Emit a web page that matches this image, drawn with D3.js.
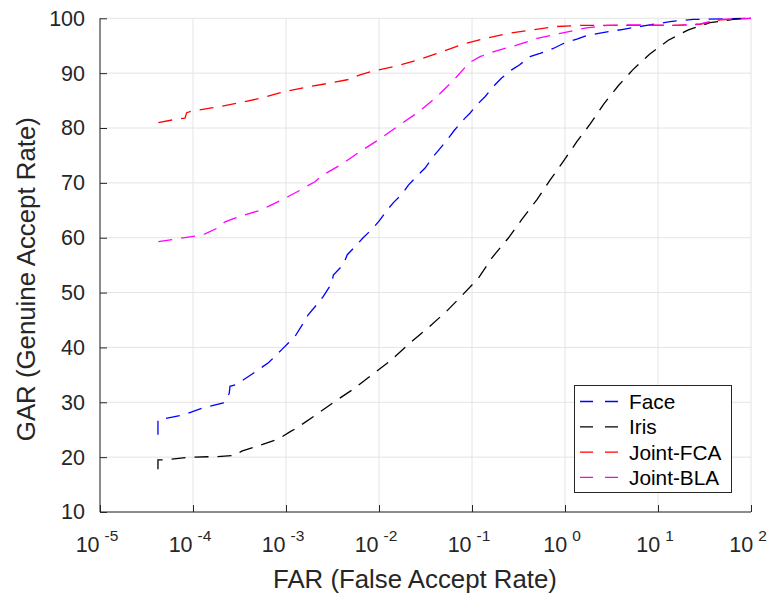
<!DOCTYPE html>
<html>
<head>
<meta charset="utf-8">
<script src="https://cdn.jsdelivr.net/npm/d3@7"></script>
<style>
  html, body { margin: 0; padding: 0; background: #fff; }
  svg { display: block; font-family: "Liberation Sans", Arial, Helvetica, sans-serif; }
</style>
</head>
<body>
<svg id="chart" width="776" height="595"></svg>
<script>
// ---------------- data ----------------
const xTickExponents = [-5, -4, -3, -2, -1, 0, 1, 2];
const yTickValues = [10, 20, 30, 40, 50, 60, 70, 80, 90, 100];
const seriesNames = ["Face", "Iris", "Joint-FCA", "Joint-BLA"];
const seriesColors = ["#0000ff", "#000000", "#ff0000", "#ff00ff"];

const faceFAR = [4.2e-5, 4.2e-5, 7.9e-5, 1.29e-4, 2.12e-4, 2.45e-4, 2.5e-4, 2.9e-4, 4.45e-4, 6.46e-4, 9.0e-4,
  1.06e-3, 1.25e-3, 1.53e-3, 1.74e-3, 2.14e-3, 2.52e-3, 3.1e-3, 3.23e-3, 4.13e-3, 4.56e-3, 5.75e-3, 6.67e-3, 8.55e-3,
  0.0101, 0.0123, 0.0143, 0.018, 0.0207, 0.0265, 0.0313, 0.0384, 0.0445, 0.0556, 0.064, 0.0841, 0.095,
  0.117, 0.138, 0.177, 0.208, 0.267, 0.323, 0.421, 0.538, 0.748, 0.959, 1.34, 1.68, 2.38, 4.24, 7.55, 13.5, 24, 100];
const faceGAR = [24.1, 26.8, 27.7, 29.0, 29.9, 31.6, 32.9, 33.2, 35.3, 37.2, 39.6,
  40.8, 42.0, 44.4, 46.0, 47.8, 49.3, 51.7, 53.2, 55.1, 56.9, 58.7, 59.9, 61.7,
  63.1, 65.1, 66.4, 68.1, 69.6, 71.5, 72.7, 74.8, 76.1, 78.1, 79.5, 81.8, 82.7,
  84.5, 85.7, 87.9, 89.1, 90.6, 91.5, 93.0, 93.6, 94.5, 95.4, 96.2, 96.8, 97.3, 98.0, 98.7, 99.4, 99.8, 100];

const irisFAR = [4.2e-5, 4.2e-5, 4.72e-5, 9.66e-5, 1.79e-4, 2.83e-4, 3.34e-4, 4.75e-4, 8.26e-4, 1.1e-3, 1.3e-3,
  2.05e-3, 3.45e-3, 5.3e-3, 8.83e-3, 0.0129, 0.0215, 0.0339, 0.0533, 0.0774, 0.117, 0.163, 0.245, 0.342, 0.497,
  0.69, 0.959, 1.34, 1.86, 2.62, 3.74, 5.35, 8.05, 12.9, 21.2, 36.2, 64.6, 100];
const irisGAR = [17.8, 19.5, 19.5, 20.0, 20.1, 20.3, 21.1, 21.9, 23.3, 24.6, 25.3,
  27.6, 30.3, 32.4, 35.3, 37.4, 40.8, 43.6, 46.6, 49.4, 52.6, 56.3, 59.9, 63.3, 66.9,
  70.5, 73.9, 77.5, 80.7, 84.4, 87.7, 90.6, 93.4, 96.0, 97.9, 99.2, 99.8, 100];

const fcaFAR = [4.24e-5, 6.14e-5, 8.2e-5, 8.55e-5, 9.3e-5, 1.65e-4, 2.95e-4, 5.25e-4, 9.35e-4, 1.6e-3, 2.97e-3,
  4.88e-3, 6.25e-3, 8.69e-3, 0.0155, 0.0272, 0.0472, 0.0841, 0.144, 0.256, 0.456, 0.813, 1.45, 4.6, 13.5, 28.3, 46.5, 100];
const fcaGAR = [81.0, 81.5, 81.8, 82.8, 83.0, 83.7, 84.5, 85.4, 86.6, 87.4, 88.2,
  88.9, 89.7, 90.4, 91.3, 92.5, 93.9, 95.4, 96.4, 97.3, 97.9, 98.5, 98.7, 98.7, 98.7, 98.9, 99.7, 100];

const blaFAR = [4.24e-5, 6.14e-5, 1.05e-4, 1.35e-4, 1.8e-4, 2.21e-4, 3.07e-4, 5.25e-4, 6.46e-4, 9.0e-4, 1.51e-3,
  1.64e-3, 2.05e-3, 2.42e-3, 4.06e-3, 6.25e-3, 0.0104, 0.0168, 0.0276, 0.0424, 0.064, 0.0935, 0.122, 0.169,
  0.302, 0.516, 0.92, 1.64, 2.81, 5.0, 17.3, 28.3, 46.5, 100];
const blaGAR = [59.3, 59.7, 60.3, 60.7, 61.7, 62.9, 63.8, 65.0, 65.7, 66.9, 68.9,
  69.3, 70.2, 71.3, 73.5, 75.7, 78.1, 80.6, 83.1, 85.8, 88.8, 91.9, 93.0, 93.9,
  95.1, 96.4, 97.3, 98.2, 98.7, 98.8, 98.7, 99.0, 99.8, 100];

const xLabel = "FAR (False Accept Rate)";
const yLabel = "GAR (Genuine Accept Rate)";

// ---------------- chart ----------------
const svg = d3.select("#chart");
const L = 100, R = 751, T = 18.3, B = 512;
const axisColor = "#262626";
const gridColor = "#e4e4e4";
const dash = "14,9";

const x = d3.scaleLog().domain([1e-5, 1e2]).range([L, R]);
const y = d3.scaleLinear().domain([10, 100]).range([B, T]);
const xTicks = xTickExponents.map(e => Math.pow(10, e));

// grid
const grid = svg.append("g");
grid.selectAll("line.gx").data(xTicks).join("line")
  .attr("x1", d => x(d)).attr("x2", d => x(d)).attr("y1", T).attr("y2", B)
  .attr("stroke", gridColor).attr("stroke-width", 1);
grid.selectAll("line.gy").data(yTickValues).join("line")
  .attr("x1", L).attr("x2", R).attr("y1", d => y(d)).attr("y2", d => y(d))
  .attr("stroke", gridColor).attr("stroke-width", 1);

// curves
const series = [
  { far: faceFAR, gar: faceGAR },
  { far: irisFAR, gar: irisGAR },
  { far: fcaFAR, gar: fcaGAR },
  { far: blaFAR, gar: blaGAR }
];
const line = d3.line().x(d => x(d[0])).y(d => y(d[1]));
series.forEach((s, i) => {
  const pts = s.far.map((f, j) => [f, s.gar[j]]);
  svg.append("path").datum(pts)
    .attr("d", line)
    .attr("fill", "none")
    .attr("stroke", seriesColors[i])
    .attr("stroke-width", 1.3)
    .attr("stroke-dasharray", dash);
});

// y axis
const yAxis = d3.axisLeft(y).tickValues(yTickValues).tickSize(-7).tickPadding(15).tickFormat(d3.format("d"));
const gy = svg.append("g").attr("transform", `translate(${L},0)`).call(yAxis);
gy.select(".domain").attr("stroke", axisColor).attr("d", `M0,${B}V${T}`);
gy.selectAll(".tick line").attr("stroke", axisColor);
gy.selectAll(".tick text").attr("fill", axisColor).attr("font-size", 21.5)
  .attr("font-family", "'Liberation Sans', Arial, sans-serif");

// x axis
const xAxis = d3.axisBottom(x).tickValues(xTicks).tickSize(-7).tickFormat("");
const gx = svg.append("g").attr("transform", `translate(0,${B})`).call(xAxis);
gx.select(".domain").attr("stroke", axisColor).attr("d", `M${L},0H${R}`);
gx.selectAll(".tick line").attr("stroke", axisColor);
gx.selectAll(".tick text").remove();
const xl = svg.append("g");
xTickExponents.forEach(e => {
  const t = xl.append("text")
    .attr("x", x(Math.pow(10, e)) - 3)
    .attr("y", 551.5)
    .attr("text-anchor", "middle")
    .attr("fill", axisColor)
    .attr("font-size", 21.5);
  t.append("tspan").text("10");
  t.append("tspan").attr("dx", 5).attr("dy", -11).attr("font-size", 15.5).text(String(e));
});

// axis labels
svg.append("text")
  .attr("x", 415).attr("y", 588)
  .attr("text-anchor", "middle").attr("fill", axisColor)
  .attr("font-size", 25.8).text(xLabel);
svg.append("text")
  .attr("transform", `translate(35,${(T + B) / 2 + 14}) rotate(-90)`)
  .attr("text-anchor", "middle").attr("fill", axisColor)
  .attr("font-size", 25.8).text(yLabel);

// legend
const lg = svg.append("g");
lg.append("rect").attr("x", 574.5).attr("y", 385.5).attr("width", 157).attr("height", 107)
  .attr("fill", "#fff").attr("stroke", axisColor).attr("stroke-width", 1);
seriesNames.forEach((name, i) => {
  const yy = 401.5 + i * 25.3;
  lg.append("line").attr("x1", 580).attr("x2", 619).attr("y1", yy).attr("y2", yy)
    .attr("stroke", seriesColors[i]).attr("stroke-width", 1.3).attr("stroke-dasharray", "13,12");
  lg.append("text").attr("x", 629).attr("y", yy + 7.5)
    .attr("font-size", 20.8).attr("fill", "#000").text(name);
});
</script>
</body>
</html>
